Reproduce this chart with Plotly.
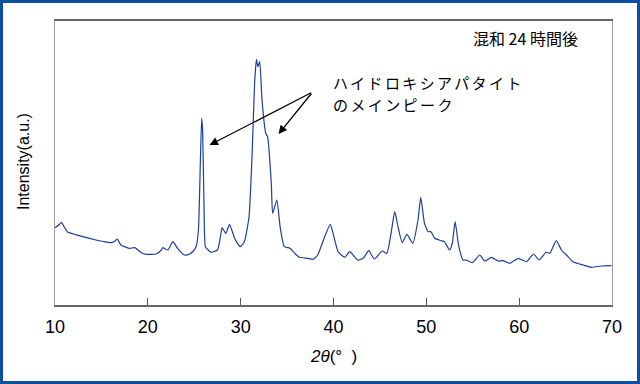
import plotly.graph_objects as go

# 2-theta (degrees) and intensity (arbitrary units)
two_theta = [10.0, 10.4, 10.7, 11.0, 11.35, 12.0, 13.0, 14.4, 15.2, 16.05, 16.4, 16.7, 17.1,
             18.0, 18.6, 19.3, 19.8, 20.9, 21.45, 21.6, 22.15, 22.7, 23.2, 23.95, 24.5, 24.9,
             25.2, 25.45, 25.65, 25.8, 25.9, 26.05, 26.2, 26.5, 26.8, 27.5, 27.85, 28.0, 28.4,
             28.8, 29.35, 29.95, 30.4, 30.9, 31.25, 31.5, 31.7, 31.85, 32.05, 32.3, 32.7, 32.9,
             33.3, 33.45, 33.9, 34.25, 34.7, 35.3, 36.0, 36.35, 37.25, 37.8, 38.3, 39.05, 39.65,
             39.95, 40.5, 41.2, 41.75, 42.6, 43.2, 43.8, 44.4, 45.25, 45.75, 46.2, 46.6, 46.95,
             47.4, 47.9, 48.55, 49.1, 49.4, 49.8, 50.2, 50.5, 50.9, 51.6, 51.95, 52.5, 52.8,
             53.1, 53.5, 53.95, 54.3, 54.95, 55.75, 56.3, 57.0, 57.7, 58.25, 59.0, 59.9, 60.8,
             61.55, 62.15, 62.9, 63.3, 64.0, 64.55, 65.1, 65.8, 66.9, 67.8, 68.85, 69.95]
intensity = [77.3, 80.0, 82.7, 78.0, 73.0, 71.0, 68.3, 65.0, 63.5, 62.3, 63.5, 66.0, 60.0,
             56.7, 57.3, 52.3, 50.7, 51.0, 55.0, 57.3, 55.0, 63.3, 56.7, 50.0, 51.0, 54.0,
             58.3, 75.0, 140.0, 186.7, 175.0, 100.0, 58.3, 55.0, 52.7, 55.0, 70.0, 77.3, 71.7,
             80.7, 66.7, 58.3, 63.3, 88.3, 155.0, 221.7, 245.7, 238.3, 243.3, 205.0, 171.7, 168.3,
             121.7, 91.7, 105.0, 78.3, 58.3, 56.7, 50.0, 47.7, 46.7, 45.7, 50.0, 68.3, 80.7,
             71.7, 53.3, 47.7, 53.3, 45.0, 46.7, 54.3, 46.0, 54.0, 51.7, 71.7, 93.3, 78.3,
             62.3, 70.7, 61.7, 85.0, 107.7, 81.7, 73.3, 73.3, 66.7, 64.3, 63.3, 55.0, 62.0,
             83.3, 58.3, 45.0, 45.0, 42.3, 50.0, 44.0, 47.7, 44.0, 44.3, 41.7, 46.7, 43.3,
             51.0, 45.0, 52.7, 51.7, 64.3, 55.0, 50.0, 43.3, 40.0, 37.7, 39.0, 39.3]

x_ticks = [10, 20, 30, 40, 50, 60, 70]
x_tick_labels = ["10", "20", "30", "40", "50", "60", "70"]

sample_label = "混和 24 時間後"
callout_lines = ["ハイドロキシアパタイト", "のメインピーク"]
x_title = "<i>2θ</i>(°  )"
y_title = "Intensity(a.u.)"

# arrow targets (data coords) and common tail
arrow_heads = [(26.65, 160), (34.08, 171)]
arrow_tail = (37.75, 213)

JP = "Noto Sans CJK JP, Noto Sans, sans-serif"
LAT = "Liberation Sans, Arial, sans-serif"

fig = go.Figure()
fig.add_trace(go.Scatter(x=two_theta, y=intensity, mode="lines",
                         line=dict(color="#1d3f9e", width=1.2, shape="spline", smoothing=0.5),
                         hoverinfo="skip"))

W, H = 640, 384
L, R, T, B = 55, 28, 21, 79
pw, ph = W - L - R, H - T - B

def px(xp):
    return (xp - L) / pw

def py(yp):
    return (H - B - yp) / ph

ann = []
for hx, hy in arrow_heads:
    ann.append(dict(x=hx, y=hy, xref="x", yref="y", ax=arrow_tail[0], ay=arrow_tail[1],
                    axref="x", ayref="y", text="", showarrow=True, arrowhead=2,
                    arrowsize=1.3, arrowwidth=1.3, arrowcolor="black"))
ann.append(dict(x=px(580), y=py(38.5), xref="paper", yref="paper", text=sample_label,
                showarrow=False, xanchor="right", yanchor="middle",
                font=dict(family=JP, size=16, color="black")))
for i, line in enumerate(callout_lines):
    ann.append(dict(x=px(331), y=py(82 + 22 * i), xref="paper", yref="paper",
                    text='<span style="letter-spacing:2.4px">%s</span>' % line,
                    showarrow=False, xanchor="left", yanchor="middle", align="left",
                    font=dict(family=JP, size=15, color="black")))
ann.append(dict(x=px(333), y=py(356), xref="paper", yref="paper", text=x_title,
                showarrow=False, xanchor="center", yanchor="middle",
                font=dict(family=LAT, size=17, color="black")))
ann.append(dict(x=px(23), y=py(162), xref="paper", yref="paper", text=y_title,
                showarrow=False, xanchor="center", yanchor="middle", textangle=-90,
                font=dict(family=LAT, size=16, color="black")))

fig.update_layout(
    width=W, height=H,
    margin=dict(l=L, r=R, t=T, b=B),
    paper_bgcolor="white", plot_bgcolor="white",
    showlegend=False,
    annotations=ann,
    shapes=[dict(type="rect", xref="paper", yref="paper",
                 x0=px(1.5), x1=px(638.5), y0=py(382.5), y1=py(1.5),
                 line=dict(color="#0d4fa3", width=3), fillcolor="rgba(0,0,0,0)")],
    xaxis=dict(range=[10, 70], tickvals=x_ticks, ticktext=x_tick_labels,
               ticks="inside", ticklen=7, tickcolor="#555", tickwidth=1,
               ticklabelstandoff=5,
               showline=True, linecolor="#666", linewidth=1.5, mirror=True,
               showgrid=False, zeroline=False,
               tickfont=dict(family=LAT, size=18, color="black")),
    yaxis=dict(range=[0, 284], showticklabels=False, ticks="",
               showline=True, linecolor="#999", linewidth=1, mirror=True,
               showgrid=False, zeroline=False),
)

fig.write_html("out.html", post_script="document.body.style.margin='0';",
               config={"displayModeBar": False})
